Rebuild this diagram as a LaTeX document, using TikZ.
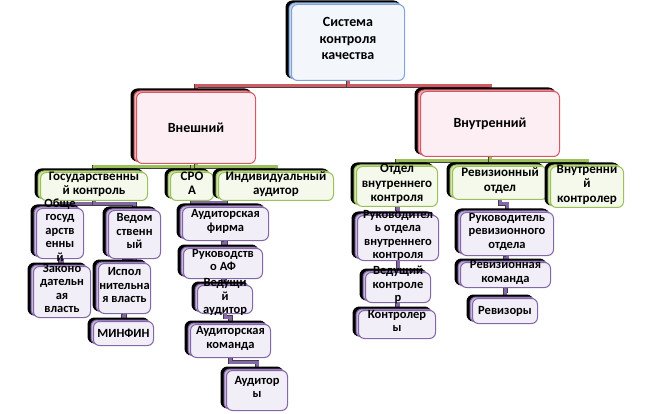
\documentclass[tikz,border=0pt]{standalone}
\usepackage{fontspec}
\setmainfont{Carlito}[BoldFont=Carlito Bold]
\usetikzlibrary{shadows,backgrounds}

\definecolor{sysline}{HTML}{7FA4D6}
\definecolor{sysfill}{HTML}{F3F7FC}
\definecolor{redline}{HTML}{D25A64}
\definecolor{redfill}{HTML}{FCEEF2}
\definecolor{greenline}{HTML}{9CC15A}
\definecolor{greenfill}{HTML}{F5F9EB}
\definecolor{purpleline}{HTML}{8467A8}
\definecolor{purplefill}{HTML}{F2EEF7}

\newcommand{\boxfont}{\fontsize{14}{16.5}\selectfont\bfseries}
\newcommand{\midboxfont}{\fontsize{13}{14.5}\selectfont\bfseries}
\newcommand{\smallboxfont}{\fontsize{12.5}{13.5}\selectfont\bfseries}
\newcommand{\boxtext}[1]{\smash{\raisebox{-1pt}{\begin{tabular}{@{}c@{}}#1\end{tabular}}}}

\begin{document}
\begin{tikzpicture}[x=1pt, y=-1pt,
        box/.style 2 args = {rounded corners=6pt,
            draw=#1, line width=1pt, fill=#2,
            general shadow={shadow xshift=-5pt, shadow yshift=3pt,
                fill=black, draw=black, line width=2pt},
            general shadow={shadow xshift=-2.5pt, shadow yshift=1.5pt,
                fill=#1!45, draw=#1},
            anchor=north west, inner sep=0pt, font=\boxfont},
        sysbox/.style = {box={sysline}{sysfill}},
        redbox/.style = {box={redline}{redfill}},
        greenbox/.style = {box={greenline}{greenfill}, font=\midboxfont},
        purplebox/.style = {box={purpleline}{purplefill}, font=\smallboxfont},
        wh/.style 2 args = {minimum width=#1pt, minimum height=#2pt},
        link/.style = {draw=black!75, line width=0.6pt,
            double=#1, double distance=3pt}]

        \useasboundingbox (0,0) rectangle (653,414);

        % Top
        \node[sysbox, wh={113}{76}] (sys) at (291,4) {\boxtext{Система\\контроля\\качества}};

        % Second level
        \node[redbox, wh={119}{71}] (ext) at (136,92) {Внешний};
        \node[redbox, wh={139}{65}] (int) at (420,91) {Внутренний};

        % Third level, external
        \node[greenbox, wh={107}{28}] (gos) at (40,172) {\boxtext{Государственны\\й контроль}};
        \node[greenbox, wh={43}{28}] (sro) at (170,172) {\boxtext{СРО\\А}};
        \node[greenbox, wh={115}{28}] (ind) at (218,172) {\boxtext{Индивидуальный\\аудитор}};

        % Third level, internal
        \node[greenbox, wh={81}{40}] (odk) at (356,166) {\boxtext{Отдел\\внутреннего\\контроля}};
        \node[greenbox, wh={95}{33}] (rev) at (452,166) {\boxtext{Ревизионный\\отдел}};
        \node[greenbox, wh={73}{41}] (vk) at (550,166) {\boxtext{Внутренни\\й\\контролер}};

        % State control
        \node[purplebox, wh={47}{50}] (obsh) at (36,208) {\boxtext{Обще\\госуд\\арств\\енны\\й}};
        \node[purplebox, wh={52}{48}] (ved) at (108,210) {\boxtext{Ведом\\ственн\\ый}};
        \node[purplebox, wh={57}{51}] (zak) at (33,266) {\boxtext{Законо\\дательн\\ая\\власть}};
        \node[purplebox, wh={52}{50}] (isp) at (98,263) {\boxtext{Испол\\нительна\\я власть}};
        \node[purplebox, wh={60}{24}] (minfin) at (93,321) {МИНФИН};

        % Audit chain
        \node[purplebox, wh={86}{33}] (af) at (182,207) {\boxtext{Аудиторская\\фирма}};
        \node[purplebox, wh={79}{30}] (ruk) at (183,248) {\boxtext{Руководств\\о АФ}};
        \node[purplebox, wh={55}{28}] (vedaud) at (197,285) {\boxtext{Ведущи\\й\\аудитор}};
        \node[purplebox, wh={80}{33}] (akom) at (190,324) {\boxtext{Аудиторская\\команда}};
        \node[purplebox, wh={61}{40}] (aud) at (226,370) {\boxtext{Аудитор\\ы}};

        % Internal control chain
        \node[purplebox, wh={81}{45}] (rodk) at (357,215) {\boxtext{Руководител\\ь отдела\\внутреннего\\контроля}};
        \node[purplebox, wh={65}{30}] (vkon) at (365,272) {\boxtext{Ведущий\\контроле\\р}};
        \node[purplebox, wh={77}{28}] (kontr) at (358,310) {\boxtext{Контролер\\ы}};

        % Revision chain
        \node[purplebox, wh={93}{43}] (rrev) at (460,212) {\boxtext{Руководитель\\ревизионного\\отдела}};
        \node[purplebox, wh={90}{25}] (rkom) at (460,262) {\boxtext{Ревизионная\\команда}};
        \node[purplebox, wh={65}{25}] (revz) at (472,298) {Ревизоры};

        % Connectors
        \begin{scope}[on background layer]
            \draw[link=redline] (sys.south) -- ++(0,5) -| (ext.north);
            \draw[link=redline] (sys.south) -- ++(0,5) -| (int.north);
            \foreach \child in {gos, sro, ind}
                \draw[link=greenline] (ext.south) -- ++(0,3) -| (\child.north);
            \foreach \child in {odk, rev, vk}
                \draw[link=greenline] (int.south) -- ++(0,4) -| (\child.north);
            \draw[link=purpleline] (gos.south) -- ++(0,3) -| (obsh.north);
            \draw[link=purpleline] (gos.south) -- ++(0,3) -| (ved.north);
            \draw[link=purpleline] (obsh.south) -- ++(0,2) -| (zak.north);
            \draw[link=purpleline] (ved.south) -- ++(0,2) -| (isp.north);
            \draw[link=purpleline] (isp.south) -- ++(0,2) -| (minfin.north);
            \draw[link=purpleline] (sro.south) -- ++(0,2) -| (af.north);
            \draw[link=purpleline] (af.south) -- ++(0,2) -| (ruk.north);
            \draw[link=purpleline] (ruk.south) -- ++(0,2) -| (vedaud.north);
            \draw[link=purpleline] (vedaud.south) -- ++(0,3) -| (akom.north);
            \draw[link=purpleline] (akom.south) -- ++(0,4) -| (aud.north);
            \draw[link=purpleline] (odk.south) -- ++(0,2) -| (rodk.north);
            \draw[link=purpleline] (rodk.south) -- ++(0,3) -| (vkon.north);
            \draw[link=purpleline] (vkon.south) -- ++(0,2) -| (kontr.north);
            \draw[link=purpleline] (rev.south) -- ++(0,4) -| (rrev.north);
            \draw[link=purpleline] (rrev.south) -- ++(0,2) -| (rkom.north);
            \draw[link=purpleline] (rkom.south) -- ++(0,3) -| (revz.north);
        \end{scope}

    \end{tikzpicture}
\end{document}
